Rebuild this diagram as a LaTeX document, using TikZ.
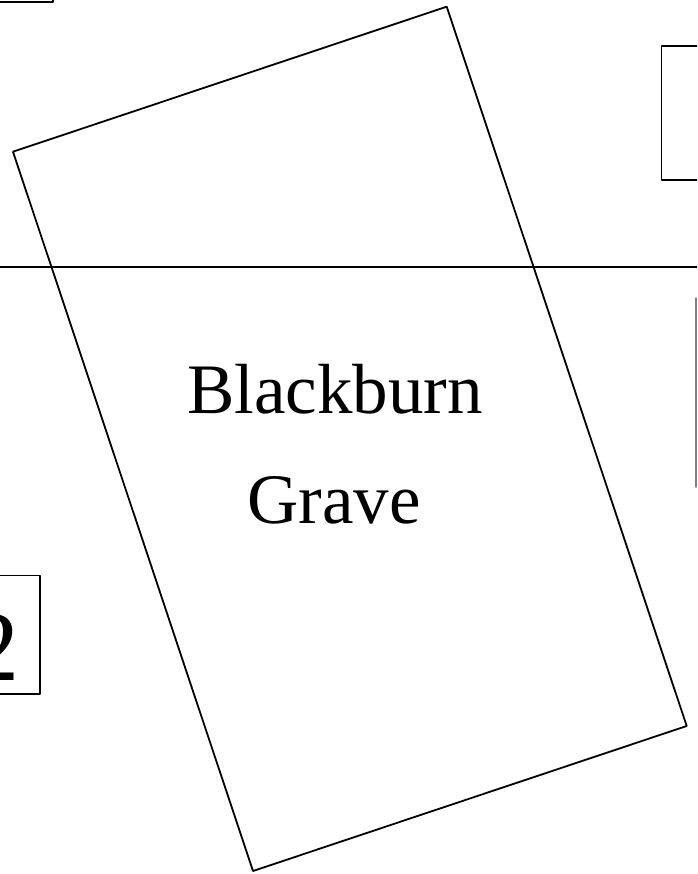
\documentclass[tikz,border=0pt]{standalone}
\usepackage{fontspec}
\setmainfont{Liberation Serif}
\begin{document}
\begin{tikzpicture}[x=1pt, y=-1pt, line cap=round, line join=round]
    % page frame, 697 x 874 px, y runs downwards
    \useasboundingbox (0,0) rectangle (697,874);
    \clip (0,0) rectangle (697,874);
    \tikzset{edge/.style={line width=1.8pt}}
    % boxes cut by the page edges
    \draw[edge] (-20,-40) rectangle (53,2);
    \draw[edge] (661.5,46) rectangle (720,180);
    \draw[gray, line width=1.4pt] (696,298) -- (696,487);
    \draw[edge] (-60,575.5) rectangle (40,694);
    \node[font=\fontsize{100}{120}\selectfont, anchor=base] (two) at (-5,680) {2};
    % dividing line
    \draw[edge] (0,266.7) -- (697,266.7);
    % the grave, a tilted rectangle
    \draw[edge] (446.7,6.7) -- (686.7,726) -- (253,871) -- (13,151.7) -- cycle;
    \node[font=\fontsize{71}{85}\selectfont, anchor=base] (name) at (335,413) {Blackburn};
    \node[font=\fontsize{71}{85}\selectfont, anchor=base] (kind) at (334,523) {Grave};
  \end{tikzpicture}
\end{document}
